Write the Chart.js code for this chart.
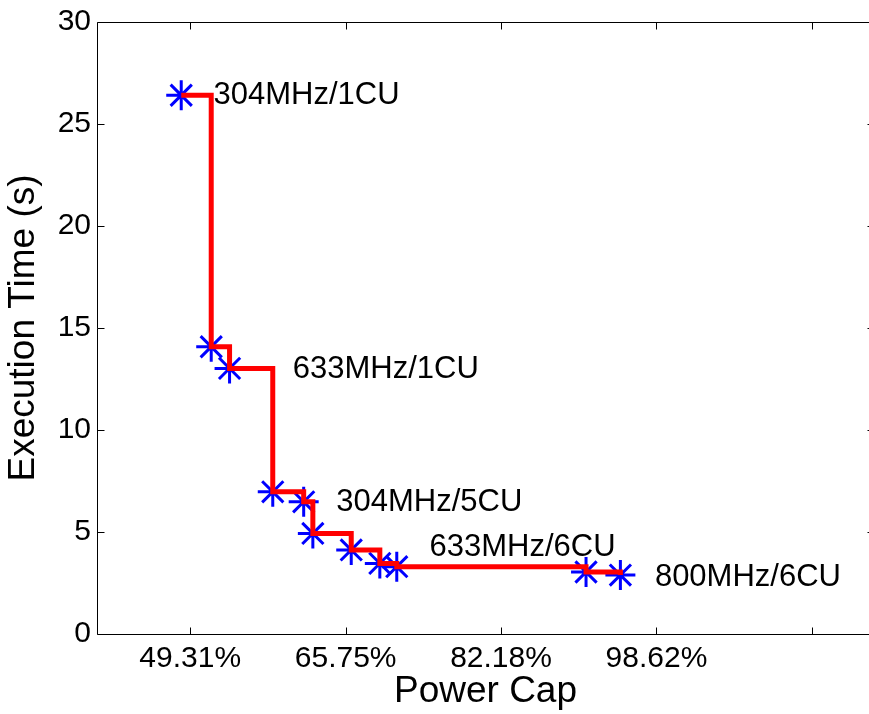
<!DOCTYPE html>
<html>
<head>
<meta charset="utf-8">
<script src="https://cdn.jsdelivr.net/npm/chart.js@4/dist/chart.umd.min.js"></script>
<style>
html, body { margin: 0; padding: 0; background: #ffffff; overflow: hidden; width: 869px; height: 714px; }
#wrap { width: 869px; height: 714px; position: relative; overflow: hidden; }
#c { display: block; position: absolute; left: 0; top: 0; }
</style>
</head>
<body>
<div id="wrap"><canvas id="c" width="880" height="714" style="width:880px;height:714px"></canvas></div>
<script>
// ---- data (power in W on the x axis, labelled as % of cap) ----
const powerW   = [29.42, 31.35, 32.53, 35.31, 37.30, 37.89, 40.36, 42.20, 43.29, 55.47, 57.68];
const execTime = [26.41, 14.08, 13.02, 6.97, 6.48, 4.93, 4.12, 3.46, 3.30, 3.04, 2.89];

const xTickValues = [30, 40, 50, 60, 70];
const xTickLabels = ['49.31%', '65.75%', '82.18%', '98.62%', ''];
const yTickValues = [0, 5, 10, 15, 20, 25, 30];

const annotationLabels = ['304MHz/1CU', '633MHz/1CU', '304MHz/5CU', '633MHz/6CU', '800MHz/6CU'];
const annotationX = [31.5, 36.6, 39.4, 45.4, 59.9];
const annotationY = [26.41, 12.98, 6.44, 4.24, 2.77];

const FONT = "'Liberation Sans', Arial, Helvetica, sans-serif";

const points = powerW.map((x, i) => ({ x: x, y: execTime[i] }));

const boxPlugin = {
  id: 'boxPlugin',
  afterDatasetsDraw(chart) {
    const ctx = chart.ctx;
    const xs = chart.scales.x, ys = chart.scales.y;
    ctx.save();
    ctx.font = '31px ' + FONT;
    ctx.fillStyle = '#000000';
    ctx.textAlign = 'left';
    ctx.textBaseline = 'middle';
    annotationLabels.forEach((t, i) => {
      ctx.fillText(t, xs.getPixelForValue(annotationX[i]), ys.getPixelForValue(annotationY[i]));
    });
    ctx.restore();
  },
  afterDraw(chart) {
    const ctx = chart.ctx;
    const a = chart.chartArea;
    const xs = chart.scales.x, ys = chart.scales.y;
    const L = Math.round(a.left) + 0.5, R = Math.round(a.right) + 0.5;
    const T = Math.round(a.top) + 0.5, B = Math.round(a.bottom) + 0.5;
    const tl = 7;
    ctx.save();
    ctx.strokeStyle = '#000000';
    ctx.lineWidth = 1;
    ctx.beginPath();
    ctx.rect(L, T, R - L, B - T);
    ctx.stroke();
    ctx.beginPath();
    xTickValues.forEach(v => {
      const px = Math.round(xs.getPixelForValue(v)) + 0.5;
      ctx.moveTo(px, B); ctx.lineTo(px, B - tl);
      ctx.moveTo(px, T); ctx.lineTo(px, T + tl);
    });
    yTickValues.forEach(v => {
      const py = Math.round(ys.getPixelForValue(v)) + 0.5;
      ctx.moveTo(L, py); ctx.lineTo(L + tl, py);
      ctx.moveTo(R, py); ctx.lineTo(R - tl, py);
    });
    ctx.stroke();
    ctx.restore();
  }
};

new Chart(document.getElementById('c'), {
  type: 'scatter',
  data: {
    datasets: [
      {
        label: 'step',
        data: points,
        showLine: true,
        stepped: 'before',
        borderColor: '#ff0000',
        backgroundColor: '#ff0000',
        borderWidth: 5,
        borderJoinStyle: 'miter',
        borderCapStyle: 'butt',
        pointRadius: 0,
        fill: false,
        order: 0
      },
      {
        label: 'points',
        data: points,
        showLine: false,
        pointStyle: 'star',
        pointRadius: 15,
        pointBorderWidth: 3,
        pointBorderColor: '#0000ff',
        pointBackgroundColor: '#0000ff',
        order: 1
      }
    ]
  },
  options: {
    responsive: false,
    animation: false,
    events: [],
    layout: { autoPadding: false, padding: { top: 22, right: 6, bottom: 0, left: 0 } },
    plugins: { legend: { display: false }, tooltip: { enabled: false } },
    scales: {
      x: {
        type: 'linear',
        min: 24,
        max: 74,
        afterBuildTicks(scale) { scale.ticks = xTickValues.map(v => ({ value: v })); },
        afterFit(scale) { scale.height = 80; },
        grid: { display: false, drawTicks: false },
        border: { display: false },
        ticks: {
          autoSkip: false,
          maxRotation: 0,
          padding: 10,
          color: '#000000',
          font: { family: FONT, size: 30, lineHeight: 1 },
          callback: (v, i) => xTickLabels[i]
        },
        title: {
          display: true,
          text: 'Power Cap',
          color: '#000000',
          font: { family: FONT, size: 37 },
          padding: { top: 0, bottom: 0 }
        }
      },
      y: {
        type: 'linear',
        min: 0,
        max: 30,
        afterBuildTicks(scale) { scale.ticks = yTickValues.map(v => ({ value: v })); },
        afterFit(scale) { scale.width = 97; },
        grid: { display: false, drawTicks: false },
        border: { display: false },
        ticks: {
          padding: 6,
          color: '#000000',
          font: { family: FONT, size: 30, lineHeight: 1 },
          callback: (v) => String(v)
        },
        title: {
          display: true,
          text: 'Execution Time (s)',
          color: '#000000',
          font: { family: FONT, size: 37 },
          padding: { top: 2, bottom: 0 }
        }
      }
    }
  },
  plugins: [boxPlugin]
});
</script>
</body>
</html>
